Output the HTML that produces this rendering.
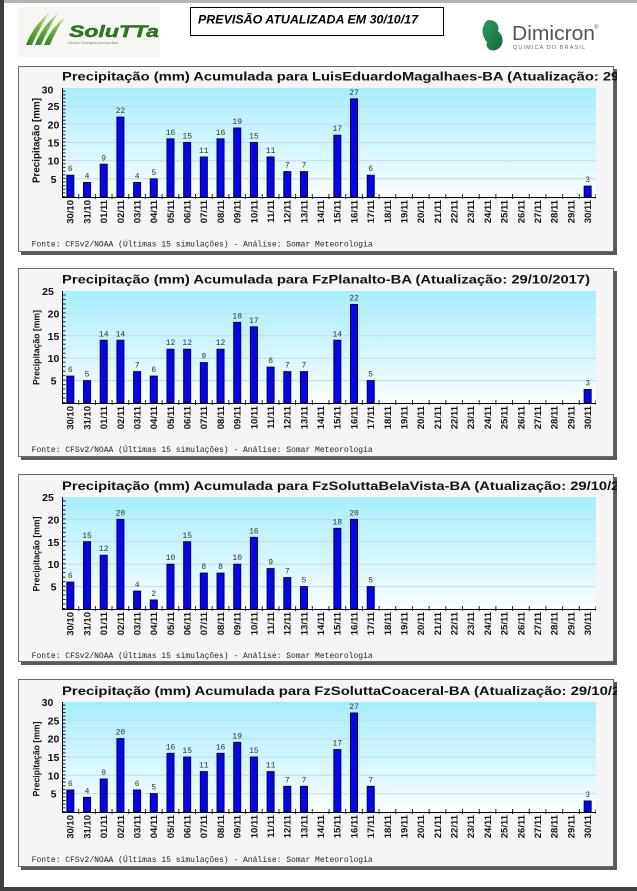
<!DOCTYPE html>
<html><head><meta charset="utf-8">
<style>
html,body{margin:0;padding:0;background:#fff;width:637px;height:891px;overflow:hidden}
svg{display:block}
.bars rect{vector-effect:non-scaling-stroke;stroke-width:1}
.bars{fill:#0707e6;stroke:#00005e}
.vl{font-family:"Liberation Mono",monospace;font-size:8px;fill:#333;text-anchor:middle}
.yl{font-family:"Liberation Sans",sans-serif;font-weight:bold;font-size:10.5px;fill:#111;text-anchor:middle}
.xl{font-family:"Liberation Sans",sans-serif;font-weight:bold;font-size:9.5px;fill:#111;text-anchor:end}
.tt{font-family:"Liberation Sans",sans-serif;font-weight:bold;font-size:12px;fill:#111}
.ft{font-family:"Liberation Mono",monospace;font-size:8px;fill:#222}
.yt{font-family:"Liberation Sans",sans-serif;font-weight:bold;fill:#111;text-anchor:middle}
</style></head><body>
<svg width="637" height="891" viewBox="0 0 637 891" xmlns="http://www.w3.org/2000/svg">
<defs>
<linearGradient id="sky" x1="0" y1="0" x2="0" y2="1"><stop offset="0" stop-color="#a6edfb"/><stop offset="1" stop-color="#fbfeff"/></linearGradient>
<linearGradient id="leaf" x1="0" y1="1" x2="1" y2="0"><stop offset="0" stop-color="#2f7d1f"/><stop offset="0.6" stop-color="#79b64a"/><stop offset="1" stop-color="#c9e2a6"/></linearGradient>
<linearGradient id="dimi" x1="0" y1="0" x2="1" y2="1"><stop offset="0" stop-color="#2e9a5c"/><stop offset="1" stop-color="#14683c"/></linearGradient>
<clipPath id="clipR"><rect x="0" y="0" width="617" height="891"/></clipPath>
</defs>
<rect width="637" height="891" fill="#fff"/>
<rect x="0" y="0" width="637" height="3" fill="#b4b4b4"/>
<rect x="0" y="0" width="4" height="891" fill="#3f3f3f"/>
<rect x="0" y="887" width="637" height="4" fill="#3f3f3f"/>

<!-- SoluTTa logo -->
<rect x="18" y="7" width="142" height="50" fill="#f6f6f3"/>
<path d="M26 45 C30 34 38 22 49 13 C43 23 37 33 32 45 Z" fill="url(#leaf)"/>
<path d="M35 45 C39 34 47 22 58 13 C52 23 46 33 41 45 Z" fill="url(#leaf)"/>
<path d="M44 45 C48 35 55 25 65 17 C59 26 54 35 50 45 Z" fill="url(#leaf)"/>
<text x="69" y="37" font-family="Liberation Sans, sans-serif" font-weight="bold" font-style="italic" font-size="17" fill="#2f7a1f" stroke="#1d5512" stroke-width="0.4" textLength="90" lengthAdjust="spacingAndGlyphs">SoluTTa</text>
<text x="68" y="44" font-family="Liberation Sans, sans-serif" font-size="3.5" fill="#888" textLength="50" lengthAdjust="spacingAndGlyphs">Soluções Tecnológicas para Agricultura</text>

<!-- header box -->
<rect x="190.5" y="7.5" width="253" height="28" fill="#fff" stroke="#000"/>
<text x="198" y="23.3" font-family="Liberation Sans, sans-serif" font-weight="bold" font-style="italic" font-size="12" fill="#000" textLength="220" lengthAdjust="spacingAndGlyphs">PREVISÃO ATUALIZADA EM 30/10/17</text>

<!-- Dimicron logo -->
<path d="M489 20 C496 20 500 26 498 31 C504 36 505 46 496 50 C490 52 485 47 487 42 C483 38 481 30 484 25 C485 22 487 20 489 20 Z" fill="url(#dimi)"/>
<text x="512" y="40" font-family="Liberation Sans, sans-serif" font-size="20" fill="#555" textLength="83" lengthAdjust="spacingAndGlyphs">Dimicron</text>
<text x="594" y="29" font-family="Liberation Sans, sans-serif" font-size="6" fill="#666">®</text>
<text x="513" y="49" font-family="Liberation Sans, sans-serif" font-size="5.5" fill="#666" textLength="72" lengthAdjust="spacing">QUÍMICA DO BRASIL</text>

<!-- ================= CHART 1 ================= -->
<rect x="21" y="69" width="596" height="186" fill="#5a5a5a"/>
<rect x="18.5" y="66.5" width="595" height="185" fill="#f5f5f5" stroke="#6a6a6a"/>
<rect x="62" y="88" width="534" height="109" fill="url(#sky)"/>
<path d="M62 178.8H596M62 160.7H596M62 142.5H596M62 124.3H596M62 106.2H596" stroke="#c4dae2" fill="none"/>
<text class="tt" x="62" y="80.5" textLength="619.5" lengthAdjust="spacingAndGlyphs" clip-path="url(#clipR)">Precipitação (mm) Acumulada para LuisEduardoMagalhaes-BA (Atualização: 29/10/2017)</text>
<line x1="64" y1="197" x2="64" y2="88" stroke="#222" stroke-width="3" stroke-dasharray="1 2.633"/>
<line x1="78.19" y1="196.5" x2="596" y2="196.5" stroke="#222" stroke-width="5" stroke-dasharray="1 15.6875"/>
<g class="bars" transform="translate(62,197) scale(16.6875,-3.6333)">
<rect x="0.29" width="0.42" height="6"/><rect x="1.29" width="0.42" height="4"/><rect x="2.29" width="0.42" height="9"/><rect x="3.29" width="0.42" height="22"/><rect x="4.29" width="0.42" height="4"/><rect x="5.29" width="0.42" height="5"/><rect x="6.29" width="0.42" height="16"/><rect x="7.29" width="0.42" height="15"/><rect x="8.29" width="0.42" height="11"/><rect x="9.29" width="0.42" height="16"/><rect x="10.29" width="0.42" height="19"/><rect x="11.29" width="0.42" height="15"/><rect x="12.29" width="0.42" height="11"/><rect x="13.29" width="0.42" height="7"/><rect x="14.29" width="0.42" height="7"/><rect x="16.29" width="0.42" height="17"/><rect x="17.29" width="0.42" height="27"/><rect x="18.29" width="0.42" height="6"/><rect x="31.29" width="0.42" height="3"/>
</g>
<path d="M62.5 88V197.5H596" stroke="#000" fill="none"/>
<g class="vl">
<text x="70.3" y="171.2">6</text><text x="87" y="178.5">4</text><text x="103.7" y="160.3">9</text><text x="120.4" y="113.1">22</text><text x="137.1" y="178.5">4</text><text x="153.8" y="174.8">5</text><text x="170.5" y="134.9">16</text><text x="187.2" y="138.5">15</text><text x="203.8" y="153">11</text><text x="220.5" y="134.9">16</text><text x="237.2" y="124">19</text><text x="253.9" y="138.5">15</text><text x="270.6" y="153">11</text><text x="287.3" y="167.6">7</text><text x="304" y="167.6">7</text><text x="337.3" y="131.2">17</text><text x="354" y="94.9">27</text><text x="370.7" y="171.2">6</text><text x="587.7" y="182.1">3</text>
</g>
<g class="yl">
<text x="47.5" y="93.5">30</text><text x="53.5" y="110.2">25</text><text x="53.5" y="128.3">20</text><text x="53.5" y="146.5">15</text><text x="53.5" y="164.7">10</text><text x="53.5" y="182.8">5</text>
</g>
<text class="yt" font-size="10" transform="translate(39.3,140.5) rotate(-90)" textLength="85" lengthAdjust="spacingAndGlyphs">Precipitação [mm]</text>
<text class="xl" transform="translate(0,200) rotate(-90)"><tspan x="0" y="73.7">30/10</tspan><tspan x="0" y="90.4">31/10</tspan><tspan x="0" y="107.1">01/11</tspan><tspan x="0" y="123.8">02/11</tspan><tspan x="0" y="140.5">03/11</tspan><tspan x="0" y="157.2">04/11</tspan><tspan x="0" y="173.9">05/11</tspan><tspan x="0" y="190.6">06/11</tspan><tspan x="0" y="207.2">07/11</tspan><tspan x="0" y="223.9">08/11</tspan><tspan x="0" y="240.6">09/11</tspan><tspan x="0" y="257.3">10/11</tspan><tspan x="0" y="274">11/11</tspan><tspan x="0" y="290.7">12/11</tspan><tspan x="0" y="307.4">13/11</tspan><tspan x="0" y="324.1">14/11</tspan><tspan x="0" y="340.7">15/11</tspan><tspan x="0" y="357.4">16/11</tspan><tspan x="0" y="374.1">17/11</tspan><tspan x="0" y="390.8">18/11</tspan><tspan x="0" y="407.5">19/11</tspan><tspan x="0" y="424.2">20/11</tspan><tspan x="0" y="440.9">21/11</tspan><tspan x="0" y="457.6">22/11</tspan><tspan x="0" y="474.2">23/11</tspan><tspan x="0" y="490.9">24/11</tspan><tspan x="0" y="507.6">25/11</tspan><tspan x="0" y="524.3">26/11</tspan><tspan x="0" y="541">27/11</tspan><tspan x="0" y="557.7">28/11</tspan><tspan x="0" y="574.4">29/11</tspan><tspan x="0" y="591.1">30/11</tspan></text>
<text class="ft" x="31.7" y="246.5" textLength="341" lengthAdjust="spacingAndGlyphs">Fonte: CFSv2/NOAA (Últimas 15 simulações) - Análise: Somar Meteorologia</text>

<!-- ================= CHART 2 ================= -->
<rect x="21" y="271" width="596" height="189" fill="#5a5a5a"/>
<rect x="18.5" y="268.5" width="595" height="188" fill="#f5f5f5" stroke="#6a6a6a"/>
<rect x="62" y="291" width="534" height="112" fill="url(#sky)"/>
<path d="M62 380.6H596M62 358.2H596M62 335.8H596M62 313.4H596" stroke="#c4dae2" fill="none"/>
<text class="tt" x="62" y="283.3" textLength="528" lengthAdjust="spacingAndGlyphs" clip-path="url(#clipR)">Precipitação (mm) Acumulada para FzPlanalto-BA (Atualização: 29/10/2017)</text>
<line x1="64" y1="403" x2="64" y2="291" stroke="#222" stroke-width="3" stroke-dasharray="1 3.48"/>
<line x1="78.19" y1="402.5" x2="596" y2="402.5" stroke="#222" stroke-width="5" stroke-dasharray="1 15.6875"/>
<g class="bars" transform="translate(62,403) scale(16.6875,-4.48)">
<rect x="0.29" width="0.42" height="6"/><rect x="1.29" width="0.42" height="5"/><rect x="2.29" width="0.42" height="14"/><rect x="3.29" width="0.42" height="14"/><rect x="4.29" width="0.42" height="7"/><rect x="5.29" width="0.42" height="6"/><rect x="6.29" width="0.42" height="12"/><rect x="7.29" width="0.42" height="12"/><rect x="8.29" width="0.42" height="9"/><rect x="9.29" width="0.42" height="12"/><rect x="10.29" width="0.42" height="18"/><rect x="11.29" width="0.42" height="17"/><rect x="12.29" width="0.42" height="8"/><rect x="13.29" width="0.42" height="7"/><rect x="14.29" width="0.42" height="7"/><rect x="16.29" width="0.42" height="14"/><rect x="17.29" width="0.42" height="22"/><rect x="18.29" width="0.42" height="5"/><rect x="31.29" width="0.42" height="3"/>
</g>
<path d="M62.5 291V403.5H596" stroke="#000" fill="none"/>
<g class="vl">
<text x="70.3" y="372.1">6</text><text x="87" y="376.6">5</text><text x="103.7" y="336.3">14</text><text x="120.4" y="336.3">14</text><text x="137.1" y="367.6">7</text><text x="153.8" y="372.1">6</text><text x="170.5" y="345.2">12</text><text x="187.2" y="345.2">12</text><text x="203.8" y="358.7">9</text><text x="220.5" y="345.2">12</text><text x="237.2" y="318.4">18</text><text x="253.9" y="322.8">17</text><text x="270.6" y="363.2">8</text><text x="287.3" y="367.6">7</text><text x="304" y="367.6">7</text><text x="337.3" y="336.3">14</text><text x="354" y="300.4">22</text><text x="370.7" y="376.6">5</text><text x="587.7" y="385.6">3</text>
</g>
<g class="yl">
<text x="48" y="295">25</text><text x="53.5" y="317.4">20</text><text x="53.5" y="339.8">15</text><text x="53.5" y="362.2">10</text><text x="53.5" y="384.6">5</text>
</g>
<text class="yt" font-size="9" transform="translate(39.3,347.5) rotate(-90)" textLength="75" lengthAdjust="spacingAndGlyphs">Precipitação [mm]</text>
<text class="xl" transform="translate(0,406) rotate(-90)"><tspan x="0" y="73.7">30/10</tspan><tspan x="0" y="90.4">31/10</tspan><tspan x="0" y="107.1">01/11</tspan><tspan x="0" y="123.8">02/11</tspan><tspan x="0" y="140.5">03/11</tspan><tspan x="0" y="157.2">04/11</tspan><tspan x="0" y="173.9">05/11</tspan><tspan x="0" y="190.6">06/11</tspan><tspan x="0" y="207.2">07/11</tspan><tspan x="0" y="223.9">08/11</tspan><tspan x="0" y="240.6">09/11</tspan><tspan x="0" y="257.3">10/11</tspan><tspan x="0" y="274">11/11</tspan><tspan x="0" y="290.7">12/11</tspan><tspan x="0" y="307.4">13/11</tspan><tspan x="0" y="324.1">14/11</tspan><tspan x="0" y="340.7">15/11</tspan><tspan x="0" y="357.4">16/11</tspan><tspan x="0" y="374.1">17/11</tspan><tspan x="0" y="390.8">18/11</tspan><tspan x="0" y="407.5">19/11</tspan><tspan x="0" y="424.2">20/11</tspan><tspan x="0" y="440.9">21/11</tspan><tspan x="0" y="457.6">22/11</tspan><tspan x="0" y="474.2">23/11</tspan><tspan x="0" y="490.9">24/11</tspan><tspan x="0" y="507.6">25/11</tspan><tspan x="0" y="524.3">26/11</tspan><tspan x="0" y="541">27/11</tspan><tspan x="0" y="557.7">28/11</tspan><tspan x="0" y="574.4">29/11</tspan><tspan x="0" y="591.1">30/11</tspan></text>
<text class="ft" x="31.7" y="452" textLength="341" lengthAdjust="spacingAndGlyphs">Fonte: CFSv2/NOAA (Últimas 15 simulações) - Análise: Somar Meteorologia</text>

<!-- ================= CHART 3 ================= -->
<rect x="21" y="477" width="596" height="188" fill="#5a5a5a"/>
<rect x="18.5" y="474.5" width="595" height="187" fill="#f5f5f5" stroke="#6a6a6a"/>
<rect x="62" y="497" width="534" height="112" fill="url(#sky)"/>
<path d="M62 586.6H596M62 564.2H596M62 541.8H596M62 519.4H596" stroke="#c4dae2" fill="none"/>
<text class="tt" x="62" y="490" textLength="586.9" lengthAdjust="spacingAndGlyphs" clip-path="url(#clipR)">Precipitação (mm) Acumulada para FzSoluttaBelaVista-BA (Atualização: 29/10/2017)</text>
<line x1="64" y1="609" x2="64" y2="497" stroke="#222" stroke-width="3" stroke-dasharray="1 3.48"/>
<line x1="78.19" y1="608.5" x2="596" y2="608.5" stroke="#222" stroke-width="5" stroke-dasharray="1 15.6875"/>
<g class="bars" transform="translate(62,609) scale(16.6875,-4.48)">
<rect x="0.29" width="0.42" height="6"/><rect x="1.29" width="0.42" height="15"/><rect x="2.29" width="0.42" height="12"/><rect x="3.29" width="0.42" height="20"/><rect x="4.29" width="0.42" height="4"/><rect x="5.29" width="0.42" height="2"/><rect x="6.29" width="0.42" height="10"/><rect x="7.29" width="0.42" height="15"/><rect x="8.29" width="0.42" height="8"/><rect x="9.29" width="0.42" height="8"/><rect x="10.29" width="0.42" height="10"/><rect x="11.29" width="0.42" height="16"/><rect x="12.29" width="0.42" height="9"/><rect x="13.29" width="0.42" height="7"/><rect x="14.29" width="0.42" height="5"/><rect x="16.29" width="0.42" height="18"/><rect x="17.29" width="0.42" height="20"/><rect x="18.29" width="0.42" height="5"/>
</g>
<path d="M62.5 497V609.5H596" stroke="#000" fill="none"/>
<g class="vl">
<text x="70.3" y="578.1">6</text><text x="87" y="537.8">15</text><text x="103.7" y="551.2">12</text><text x="120.4" y="515.4">20</text><text x="137.1" y="587.1">4</text><text x="153.8" y="596">2</text><text x="170.5" y="560.2">10</text><text x="187.2" y="537.8">15</text><text x="203.8" y="569.2">8</text><text x="220.5" y="569.2">8</text><text x="237.2" y="560.2">10</text><text x="253.9" y="533.3">16</text><text x="270.6" y="564.7">9</text><text x="287.3" y="573.6">7</text><text x="304" y="582.6">5</text><text x="337.3" y="524.4">18</text><text x="354" y="515.4">20</text><text x="370.7" y="582.6">5</text>
</g>
<g class="yl">
<text x="48" y="501">25</text><text x="53.5" y="523.4">20</text><text x="53.5" y="545.8">15</text><text x="53.5" y="568.2">10</text><text x="53.5" y="590.6">5</text>
</g>
<text class="yt" font-size="9" transform="translate(39.3,554) rotate(-90)" textLength="75" lengthAdjust="spacingAndGlyphs">Precipitação [mm]</text>
<text class="xl" transform="translate(0,612) rotate(-90)"><tspan x="0" y="73.7">30/10</tspan><tspan x="0" y="90.4">31/10</tspan><tspan x="0" y="107.1">01/11</tspan><tspan x="0" y="123.8">02/11</tspan><tspan x="0" y="140.5">03/11</tspan><tspan x="0" y="157.2">04/11</tspan><tspan x="0" y="173.9">05/11</tspan><tspan x="0" y="190.6">06/11</tspan><tspan x="0" y="207.2">07/11</tspan><tspan x="0" y="223.9">08/11</tspan><tspan x="0" y="240.6">09/11</tspan><tspan x="0" y="257.3">10/11</tspan><tspan x="0" y="274">11/11</tspan><tspan x="0" y="290.7">12/11</tspan><tspan x="0" y="307.4">13/11</tspan><tspan x="0" y="324.1">14/11</tspan><tspan x="0" y="340.7">15/11</tspan><tspan x="0" y="357.4">16/11</tspan><tspan x="0" y="374.1">17/11</tspan><tspan x="0" y="390.8">18/11</tspan><tspan x="0" y="407.5">19/11</tspan><tspan x="0" y="424.2">20/11</tspan><tspan x="0" y="440.9">21/11</tspan><tspan x="0" y="457.6">22/11</tspan><tspan x="0" y="474.2">23/11</tspan><tspan x="0" y="490.9">24/11</tspan><tspan x="0" y="507.6">25/11</tspan><tspan x="0" y="524.3">26/11</tspan><tspan x="0" y="541">27/11</tspan><tspan x="0" y="557.7">28/11</tspan><tspan x="0" y="574.4">29/11</tspan><tspan x="0" y="591.1">30/11</tspan></text>
<text class="ft" x="31.7" y="658" textLength="341" lengthAdjust="spacingAndGlyphs">Fonte: CFSv2/NOAA (Últimas 15 simulações) - Análise: Somar Meteorologia</text>

<!-- ================= CHART 4 ================= -->
<rect x="21" y="682" width="596" height="188" fill="#5a5a5a"/>
<rect x="18.5" y="679.5" width="595" height="187" fill="#f5f5f5" stroke="#6a6a6a"/>
<rect x="62" y="702" width="534" height="110" fill="url(#sky)"/>
<path d="M62 793.7H596M62 775.3H596M62 757H596M62 738.7H596M62 720.3H596" stroke="#c4dae2" fill="none"/>
<text class="tt" x="62" y="695" textLength="588" lengthAdjust="spacingAndGlyphs" clip-path="url(#clipR)">Precipitação (mm) Acumulada para FzSoluttaCoaceral-BA (Atualização: 29/10/2017)</text>
<line x1="64" y1="812" x2="64" y2="702" stroke="#222" stroke-width="3" stroke-dasharray="1 2.667"/>
<line x1="78.19" y1="811.5" x2="596" y2="811.5" stroke="#222" stroke-width="5" stroke-dasharray="1 15.6875"/>
<g class="bars" transform="translate(62,812) scale(16.6875,-3.6667)">
<rect x="0.29" width="0.42" height="6"/><rect x="1.29" width="0.42" height="4"/><rect x="2.29" width="0.42" height="9"/><rect x="3.29" width="0.42" height="20"/><rect x="4.29" width="0.42" height="6"/><rect x="5.29" width="0.42" height="5"/><rect x="6.29" width="0.42" height="16"/><rect x="7.29" width="0.42" height="15"/><rect x="8.29" width="0.42" height="11"/><rect x="9.29" width="0.42" height="16"/><rect x="10.29" width="0.42" height="19"/><rect x="11.29" width="0.42" height="15"/><rect x="12.29" width="0.42" height="11"/><rect x="13.29" width="0.42" height="7"/><rect x="14.29" width="0.42" height="7"/><rect x="16.29" width="0.42" height="17"/><rect x="17.29" width="0.42" height="27"/><rect x="18.29" width="0.42" height="7"/><rect x="31.29" width="0.42" height="3"/>
</g>
<path d="M62.5 702V812.5H596" stroke="#000" fill="none"/>
<g class="vl">
<text x="70.3" y="786">6</text><text x="87" y="793.3">4</text><text x="103.7" y="775">9</text><text x="120.4" y="734.7">20</text><text x="137.1" y="786">6</text><text x="153.8" y="789.7">5</text><text x="170.5" y="749.3">16</text><text x="187.2" y="753">15</text><text x="203.8" y="767.7">11</text><text x="220.5" y="749.3">16</text><text x="237.2" y="738.3">19</text><text x="253.9" y="753">15</text><text x="270.6" y="767.7">11</text><text x="287.3" y="782.3">7</text><text x="304" y="782.3">7</text><text x="337.3" y="745.7">17</text><text x="354" y="709">27</text><text x="370.7" y="782.3">7</text><text x="587.7" y="797">3</text>
</g>
<g class="yl">
<text x="47.5" y="706">30</text><text x="53.5" y="724.3">25</text><text x="53.5" y="742.7">20</text><text x="53.5" y="761">15</text><text x="53.5" y="779.3">10</text><text x="53.5" y="797.7">5</text>
</g>
<text class="yt" font-size="9" transform="translate(39.3,759) rotate(-90)" textLength="75" lengthAdjust="spacingAndGlyphs">Precipitação [mm]</text>
<text class="xl" transform="translate(0,815) rotate(-90)"><tspan x="0" y="73.7">30/10</tspan><tspan x="0" y="90.4">31/10</tspan><tspan x="0" y="107.1">01/11</tspan><tspan x="0" y="123.8">02/11</tspan><tspan x="0" y="140.5">03/11</tspan><tspan x="0" y="157.2">04/11</tspan><tspan x="0" y="173.9">05/11</tspan><tspan x="0" y="190.6">06/11</tspan><tspan x="0" y="207.2">07/11</tspan><tspan x="0" y="223.9">08/11</tspan><tspan x="0" y="240.6">09/11</tspan><tspan x="0" y="257.3">10/11</tspan><tspan x="0" y="274">11/11</tspan><tspan x="0" y="290.7">12/11</tspan><tspan x="0" y="307.4">13/11</tspan><tspan x="0" y="324.1">14/11</tspan><tspan x="0" y="340.7">15/11</tspan><tspan x="0" y="357.4">16/11</tspan><tspan x="0" y="374.1">17/11</tspan><tspan x="0" y="390.8">18/11</tspan><tspan x="0" y="407.5">19/11</tspan><tspan x="0" y="424.2">20/11</tspan><tspan x="0" y="440.9">21/11</tspan><tspan x="0" y="457.6">22/11</tspan><tspan x="0" y="474.2">23/11</tspan><tspan x="0" y="490.9">24/11</tspan><tspan x="0" y="507.6">25/11</tspan><tspan x="0" y="524.3">26/11</tspan><tspan x="0" y="541">27/11</tspan><tspan x="0" y="557.7">28/11</tspan><tspan x="0" y="574.4">29/11</tspan><tspan x="0" y="591.1">30/11</tspan></text>
<text class="ft" x="31.7" y="862" textLength="341" lengthAdjust="spacingAndGlyphs">Fonte: CFSv2/NOAA (Últimas 15 simulações) - Análise: Somar Meteorologia</text>
</svg>
</body></html>
